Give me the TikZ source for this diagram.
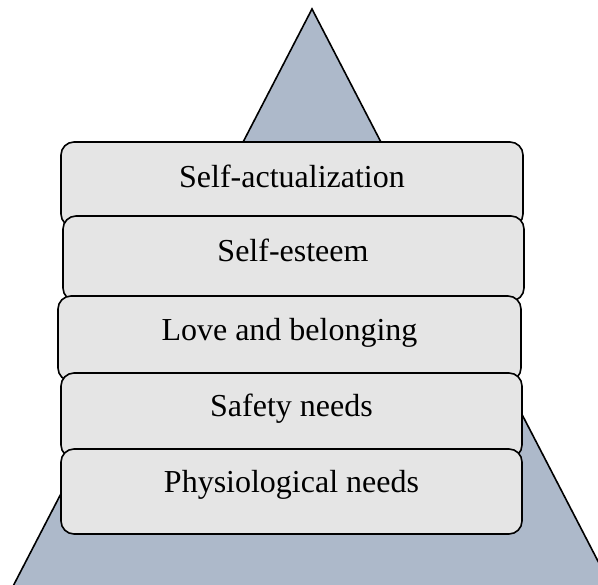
\documentclass[tikz,border=0pt]{standalone}
\usepackage{fontspec}
\setmainfont{Liberation Serif}
\definecolor{tri}{RGB}{173,185,202}
\definecolor{boxfill}{RGB}{229,229,229}
\tikzset{
  levelbox/.style={draw=black, line width=1.6pt, fill=boxfill, rounded corners=13pt},
  leveltext/.style={anchor=base, inner sep=0pt, font=\fontsize{32}{38}\selectfont},
}
\begin{document}
\begin{tikzpicture}[x=1pt,y=-1pt]
\useasboundingbox (0,0) rectangle (598,585);
\begin{scope}
\clip (0,0) rectangle (598,585);
\draw[line width=1.6pt, fill=tri, line join=miter] (312,9) -- (-20,650) -- (644,650) -- cycle;
\end{scope}
\draw[levelbox] (61,142) rectangle (523,227) coordinate (b1);
\node[leveltext] (t1) at (292,188) {Self-actualization};
\draw[levelbox] (63,216) rectangle (524,301) coordinate (b2);
\node[leveltext] (t2) at (293,262) {Self-esteem};
\draw[levelbox] (58,296) rectangle (521,381) coordinate (b3);
\node[leveltext] (t3) at (289.5,341) {Love and belonging};
\draw[levelbox] (61,373) rectangle (522,458) coordinate (b4);
\node[leveltext] (t4) at (291.5,417) {Safety needs};
\draw[levelbox] (61,449) rectangle (522,534) coordinate (b5);
\node[leveltext] (t5) at (291.5,493) {Physiological needs};
\end{tikzpicture}
\end{document}
